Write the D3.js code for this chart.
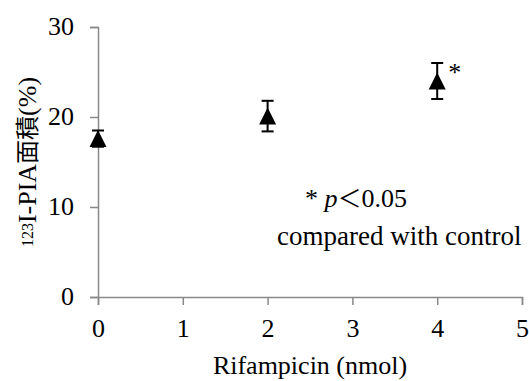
<!DOCTYPE html>
<html>
<head>
<meta charset="utf-8">
<script src="https://cdn.jsdelivr.net/npm/d3@7"></script>
<style>
  body { margin: 0; background: #fff; }
  svg text { font-family: "Liberation Serif", "Times New Roman", serif; fill: #000; }
</style>
</head>
<body>
<svg id="chart" width="529" height="381"></svg>
<script>
// Données
const doses = [0, 2, 4];
const values = [17.6, 20.1, 24.0];
const errors = [0.9, 1.7, 2.0];
const signif = [false, false, true];
const xTicks = [0, 1, 2, 3, 4, 5];
const yTicks = [0, 10, 20, 30];

const svg = d3.select("#chart");
const margin = { left: 98, right: 7, top: 27, bottom: 84 };
const W = 529, H = 381;

const x = d3.scaleLinear().domain([0, 5]).range([margin.left, W - margin.right]);
const y = d3.scaleLinear().domain([0, 30]).range([H - margin.bottom, margin.top]);

const axisColor = "#898989";
const fs = "26px";

// Axe Y
const gy = svg.append("g")
    .attr("transform", `translate(${margin.left},0)`)
    .call(d3.axisLeft(y).tickValues(yTicks).tickFormat(d3.format("d")).tickSize(8).tickPadding(16));
gy.select(".domain").attr("stroke", axisColor).attr("stroke-width", 1.5);
gy.selectAll(".tick line").attr("stroke", axisColor).attr("stroke-width", 1.5);
gy.selectAll(".tick text").style("font-size", fs).attr("dy", "0.3em");

// Axe X
const gx = svg.append("g")
    .attr("transform", `translate(0,${y(0)})`)
    .call(d3.axisBottom(x).tickValues(xTicks).tickFormat(d3.format("d")).tickSize(8).tickPadding(14));
gx.select(".domain").attr("stroke", axisColor).attr("stroke-width", 1.5);
gx.selectAll(".tick line").attr("stroke", axisColor).attr("stroke-width", 1.5);
gx.selectAll(".tick text").style("font-size", fs).attr("dy", "0.71em");

// Titre axe X
svg.append("text")
    .attr("x", (x(0) + x(5)) / 2)
    .attr("y", 374)
    .attr("text-anchor", "middle")
    .style("font-size", fs)
    .text("Rifampicin (nmol)");

// Titre axe Y
const yl = svg.append("text")
    .attr("transform", `translate(35,162) rotate(-90)`)
    .attr("text-anchor", "middle")
    .style("font-size", fs);
yl.append("tspan").style("font-size", "16px").attr("dy", "-0.1em").text("123");
yl.append("tspan").attr("dy", "0.1em").text("I-PIA");
yl.append("tspan").style("font-family", "'Noto Sans CJK JP'").style("font-size", "24px").text("面積");
yl.append("tspan").text("(%)");

// Barres d'erreur
const data = doses.map((d, i) => ({ x: d, v: values[i], e: errors[i], s: signif[i] }));
const capW = 6;
const eb = svg.append("g").attr("stroke", "#000").attr("stroke-width", 2);
data.forEach(d => {
  eb.append("line").attr("x1", x(d.x)).attr("x2", x(d.x)).attr("y1", y(d.v - d.e)).attr("y2", y(d.v + d.e));
  eb.append("line").attr("x1", x(d.x) - capW).attr("x2", x(d.x) + capW).attr("y1", y(d.v + d.e)).attr("y2", y(d.v + d.e));
  eb.append("line").attr("x1", x(d.x) - capW).attr("x2", x(d.x) + capW).attr("y1", y(d.v - d.e)).attr("y2", y(d.v - d.e));
});

// Triangles
const tw = 8.5, th = 8.5;
svg.append("g").selectAll("path")
    .data(data)
    .enter().append("path")
    .attr("d", d => {
      const cx = x(d.x), cy = y(d.v);
      return `M${cx},${cy - th}L${cx + tw},${cy + th}L${cx - tw},${cy + th}Z`;
    })
    .attr("fill", "#000");

// Astérisque
svg.append("g").selectAll("text")
    .data(data.filter(d => d.s))
    .enter().append("text")
    .attr("x", d => x(d.x) + 11)
    .attr("y", d => y(d.v + d.e) + 18)
    .style("font-size", "26px")
    .text("*");

// Annotation
const ann = svg.append("text").attr("x", 305).attr("y", 207).style("font-size", fs);
ann.append("tspan").text("* ");
ann.append("tspan").style("font-style", "italic").text("p");
ann.append("tspan").style("font-family", "'Noto Sans CJK JP'").style("font-size", "24px").text("＜");
ann.append("tspan").text("0.05");

svg.append("text").attr("x", 277).attr("y", 245).style("font-size", "27px").text("compared with control");
</script>
</body>
</html>
